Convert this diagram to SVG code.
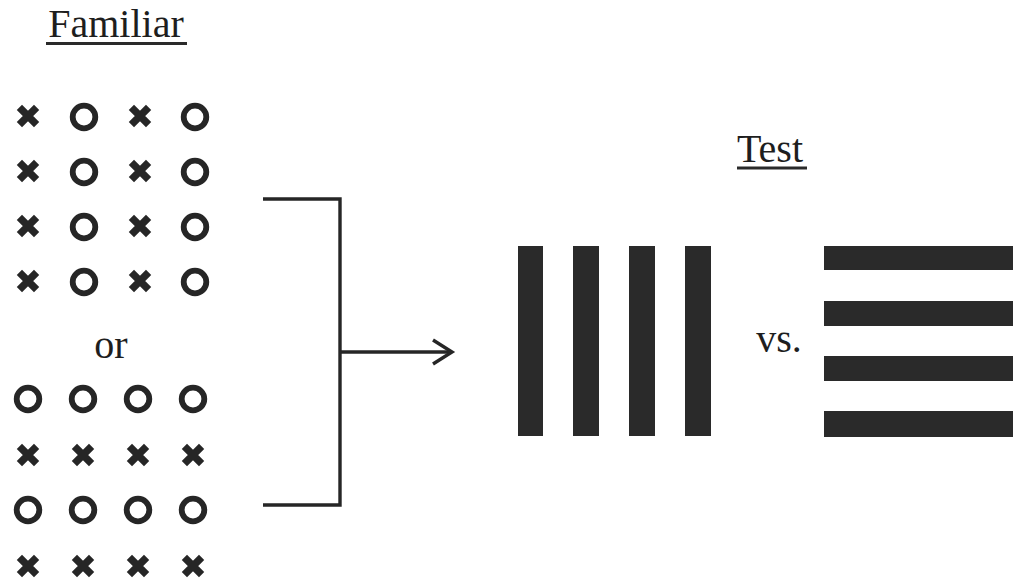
<svg xmlns="http://www.w3.org/2000/svg" width="1013" height="586" viewBox="0 0 1013 586">
  <style>
    .label { font-family: "Liberation Serif", "Times New Roman", serif; font-size: 40px; fill: #1e1e1e; }
    .rule { stroke: #2a2a2a; stroke-width: 3; fill: none; }
    .wire { stroke: #262626; stroke-width: 3.4; fill: none; }
    .bar { fill: #2a2a2a; }
  </style>
  <defs>
    <g id="cross">
      <path d="M-8.6,-8.6 L8.6,8.6 M8.6,-8.6 L-8.6,8.6" stroke="#262626" stroke-width="7.4" fill="none"/>
    </g>
    <g id="ring">
      <circle r="11.3" fill="none" stroke="#262626" stroke-width="5.8"/>
    </g>
  </defs>
  <rect width="1013" height="586" fill="#ffffff"/>

  <!-- Familiar heading -->
  <g id="familiar-title">
    <text class="label" x="116" y="37" text-anchor="middle">Familiar</text>
    <line class="rule" x1="46" y1="43.5" x2="187" y2="43.5"/>
  </g>

  <!-- Familiar pattern A: alternating columns -->
  <g id="familiar-columns">
    <use href="#cross" x="28" y="116"/><use href="#ring" x="84" y="117"/><use href="#cross" x="140" y="116"/><use href="#ring" x="195" y="117"/>
    <use href="#cross" x="28" y="171"/><use href="#ring" x="84" y="172"/><use href="#cross" x="140" y="171"/><use href="#ring" x="195" y="172"/>
    <use href="#cross" x="28" y="226"/><use href="#ring" x="84" y="227"/><use href="#cross" x="140" y="226"/><use href="#ring" x="195" y="227"/>
    <use href="#cross" x="28" y="281"/><use href="#ring" x="84" y="282"/><use href="#cross" x="140" y="281"/><use href="#ring" x="195" y="282"/>
  </g>

  <g id="or-label">
    <text class="label" x="111" y="358" text-anchor="middle">or</text>
  </g>

  <!-- Familiar pattern B: alternating rows -->
  <g id="familiar-rows">
    <use href="#ring" x="28" y="399"/><use href="#ring" x="83" y="399"/><use href="#ring" x="138" y="399"/><use href="#ring" x="193" y="399"/>
    <use href="#cross" x="28" y="455"/><use href="#cross" x="83" y="455"/><use href="#cross" x="138" y="455"/><use href="#cross" x="193" y="455"/>
    <use href="#ring" x="28" y="510"/><use href="#ring" x="83" y="510"/><use href="#ring" x="138" y="510"/><use href="#ring" x="193" y="510"/>
    <use href="#cross" x="28" y="566"/><use href="#cross" x="83" y="566"/><use href="#cross" x="138" y="566"/><use href="#cross" x="193" y="566"/>
  </g>

  <!-- Bracket joining both familiar patterns, arrow to the test -->
  <g id="connectors">
    <path class="wire" d="M263,199 H340 V505 H263"/>
    <path class="wire" d="M340,352 H452"/>
    <path class="wire" d="M433,340 L452,352 L433,364"/>
  </g>

  <!-- Test heading -->
  <g id="test-title">
    <text class="label" x="770" y="162" text-anchor="middle">Test</text>
    <line class="rule" x1="737" y1="168" x2="807" y2="168"/>
  </g>

  <!-- Vertical grating -->
  <g id="vertical-grating">
    <rect class="bar" x="518" y="246" width="25" height="190"/>
    <rect class="bar" x="573" y="246" width="26" height="190"/>
    <rect class="bar" x="629" y="246" width="26" height="190"/>
    <rect class="bar" x="685" y="246" width="26" height="190"/>
  </g>

  <g id="vs-label">
    <text class="label" x="779" y="352" text-anchor="middle">vs.</text>
  </g>

  <!-- Horizontal grating -->
  <g id="horizontal-grating">
    <rect class="bar" x="824" y="246" width="189" height="24"/>
    <rect class="bar" x="824" y="301" width="189" height="25"/>
    <rect class="bar" x="824" y="356" width="189" height="25"/>
    <rect class="bar" x="824" y="411" width="189" height="26"/>
  </g>
</svg>
